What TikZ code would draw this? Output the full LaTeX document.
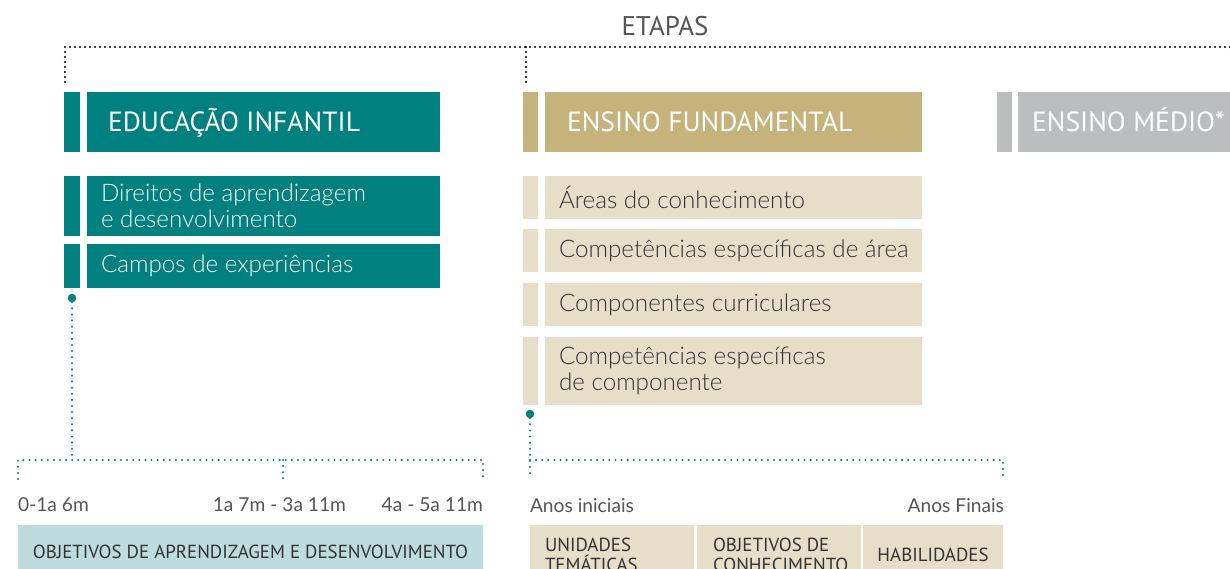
\documentclass[tikz,border=0pt]{standalone}
\usepackage{fontspec}
\setmainfont{Lato}
\newfontfamily\hfont{PT Sans}
\newfontfamily\bfont{Lato Light}
\newfontfamily\lfont{Lato}
\definecolor{tealc}{HTML}{00807F}
\definecolor{goldc}{HTML}{C6B37B}
\definecolor{beigec}{HTML}{E6DEC8}
\definecolor{grayc}{HTML}{BCBDBF}
\definecolor{bluec}{HTML}{BEDBDE}
\definecolor{labc}{HTML}{555555}
\definecolor{darkc}{HTML}{333333}
\begin{document}
\begin{tikzpicture}[x=1pt,y=-1pt,
  every node/.style={inner sep=0pt, outer sep=0pt},
  blk/.style={anchor=north west, draw=none},
  hdrtxt/.style={anchor=base west, text=white, font=\hfont\fontsize{27.7}{30}\selectfont},
  subtxt/.style={anchor=west, align=left, font=\bfont\fontsize{24.2}{25.5}\selectfont},
  captxt/.style={align=left, text=darkc, font=\hfont\fontsize{18.9}{20}\selectfont},
  lab/.style={text=labc, font=\lfont\fontsize{19.2}{22}\selectfont},
  blackdots/.style={draw=black, line width=2.3pt, line cap=round, dash pattern=on 0pt off 5pt},
  tealdots/.style={draw=tealc, line width=2.3pt, line cap=round, dash pattern=on 0pt off 6.1pt},
  pin/.style={circle, fill=tealc, minimum size=8.5pt}
]
\clip (0,0) rectangle (1230,569);
% title
\node[anchor=base, text=labc, font=\hfont\fontsize{27}{30}\selectfont] (etapas) at (665,36) {ETAPAS};
% top bracket
\coordinate (tl) at (65,47);
\coordinate (tm) at (526,47);
\coordinate (tr) at (1232,47);
\coordinate (tlb) at (65,82);
\coordinate (tmb) at (526,82);
\path[blackdots] (tlb) -- (tl) -- (tr);
\path[blackdots] (tm) -- (tmb);
% header row
\node[blk, fill=tealc, minimum width=16pt, minimum height=60pt] (eibar) at (64,92) {};
\node[blk, fill=tealc, minimum width=353pt, minimum height=60pt] (ei) at (87,92) {};
\node[hdrtxt] (eit) at ([shift={(21,40)}]ei.north west) {EDUCAÇÃO INFANTIL};
\node[blk, fill=goldc, minimum width=15pt, minimum height=60pt] (efbar) at (523,92) {};
\node[blk, fill=goldc, minimum width=377pt, minimum height=60pt] (ef) at (545,92) {};
\node[hdrtxt] (eft) at ([shift={(22,40)}]ef.north west) {ENSINO FUNDAMENTAL};
\node[blk, fill=grayc, minimum width=15pt, minimum height=60pt] (embar) at (997,92) {};
\node[blk, fill=grayc, minimum width=240pt, minimum height=60pt] (em) at (1018,92) {};
\node[hdrtxt] (emt) at ([shift={(14,40)}]em.north west) {ENSINO MÉDIO*};
% infantil sub boxes
\node[blk, fill=tealc, minimum width=16pt, minimum height=60pt] (d1bar) at (64,176) {};
\node[blk, fill=tealc, minimum width=353pt, minimum height=60pt] (d1) at (87,176) {};
\node[subtxt, text=white] (d1t) at ([xshift=14pt]d1.west) {Direitos de aprendizagem\\e desenvolvimento};
\node[blk, fill=tealc, minimum width=16pt, minimum height=44pt] (d2bar) at (64,244) {};
\node[blk, fill=tealc, minimum width=353pt, minimum height=44pt] (d2) at (87,244) {};
\node[subtxt, text=white] (d2t) at ([xshift=14pt]d2.west) {Campos de experiências};
% fundamental sub boxes
\node[blk, fill=beigec, minimum width=15pt, minimum height=43pt] (f1bar) at (523,176) {};
\node[blk, fill=beigec, minimum width=377pt, minimum height=43pt] (f1) at (545,176) {};
\node[subtxt, text=darkc] (f1t) at ([xshift=14pt]f1.west) {Áreas do conhecimento};
\node[blk, fill=beigec, minimum width=15pt, minimum height=43pt] (f2bar) at (523,229) {};
\node[blk, fill=beigec, minimum width=377pt, minimum height=43pt] (f2) at (545,229) {};
\node[subtxt, text=darkc] (f2t) at ([xshift=14pt]f2.west) {Competências específicas de área};
\node[blk, fill=beigec, minimum width=15pt, minimum height=43pt] (f3bar) at (523,283) {};
\node[blk, fill=beigec, minimum width=377pt, minimum height=43pt] (f3) at (545,283) {};
\node[subtxt, text=darkc] (f3t) at ([xshift=14pt]f3.west) {Componentes curriculares};
\node[blk, fill=beigec, minimum width=15pt, minimum height=68pt] (f4bar) at (523,337) {};
\node[blk, fill=beigec, minimum width=377pt, minimum height=68pt] (f4) at (545,337) {};
\node[subtxt, text=darkc] (f4t) at ([xshift=14pt]f4.west) {Competências específicas\\de componente};
% infantil pin and bracket
\node[pin] (p1) at (72,298) {};
\coordinate (j1) at (72,460);
\coordinate (a1) at (18,460);
\coordinate (a1b) at (18,479);
\coordinate (a2) at (283,460);
\coordinate (a2b) at (283,479);
\coordinate (a3) at (483,460);
\coordinate (a3b) at (483,479);
\path[tealdots] (p1.south) -- (j1);
\path[tealdots] (a1b) -- (a1) -- (a3) -- (a3b);
\path[tealdots] (a2) -- (a2b);
\node[lab, anchor=base west] (l1) at (18,511) {0-1a 6m};
\node[lab, anchor=base east] (l2) at (346,511) {1a 7m - 3a 11m};
\node[lab, anchor=base east] (l3) at (483,511) {4a - 5a 11m};
\node[blk, fill=bluec, minimum width=465pt, minimum height=54pt] (obj) at (18,525) {};
\node[captxt, anchor=center] (objt) at (obj.center) {OBJETIVOS DE APRENDIZAGEM E DESENVOLVIMENTO};
% fundamental pin and bracket
\node[pin] (p2) at (530,414) {};
\coordinate (b1) at (530,460);
\coordinate (b1b) at (530,479);
\coordinate (b2) at (1003,460);
\coordinate (b2b) at (1003,481);
\path[tealdots] (p2.south) -- (b1) -- (b1b);
\path[tealdots] (b1) -- (b2) -- (b2b);
\node[lab, anchor=base west] (l4) at (530,512) {Anos iniciais};
\node[lab, anchor=base east] (l5) at (1004,512) {Anos Finais};
\node[blk, fill=beigec, minimum width=164pt, minimum height=60pt] (u1) at (530,525) {};
\node[captxt, anchor=west] (u1t) at ([xshift=15pt]u1.west) {UNIDADES\\TEMÁTICAS};
\node[blk, fill=beigec, minimum width=164pt, minimum height=60pt] (u2) at (697,525) {};
\node[captxt, anchor=west] (u2t) at ([xshift=16pt]u2.west) {OBJETIVOS DE\\CONHECIMENTO};
\node[blk, fill=beigec, minimum width=140pt, minimum height=60pt] (u3) at (863,525) {};
\node[captxt, anchor=center] (u3t) at (u3.center) {HABILIDADES};
\end{tikzpicture}
\end{document}
